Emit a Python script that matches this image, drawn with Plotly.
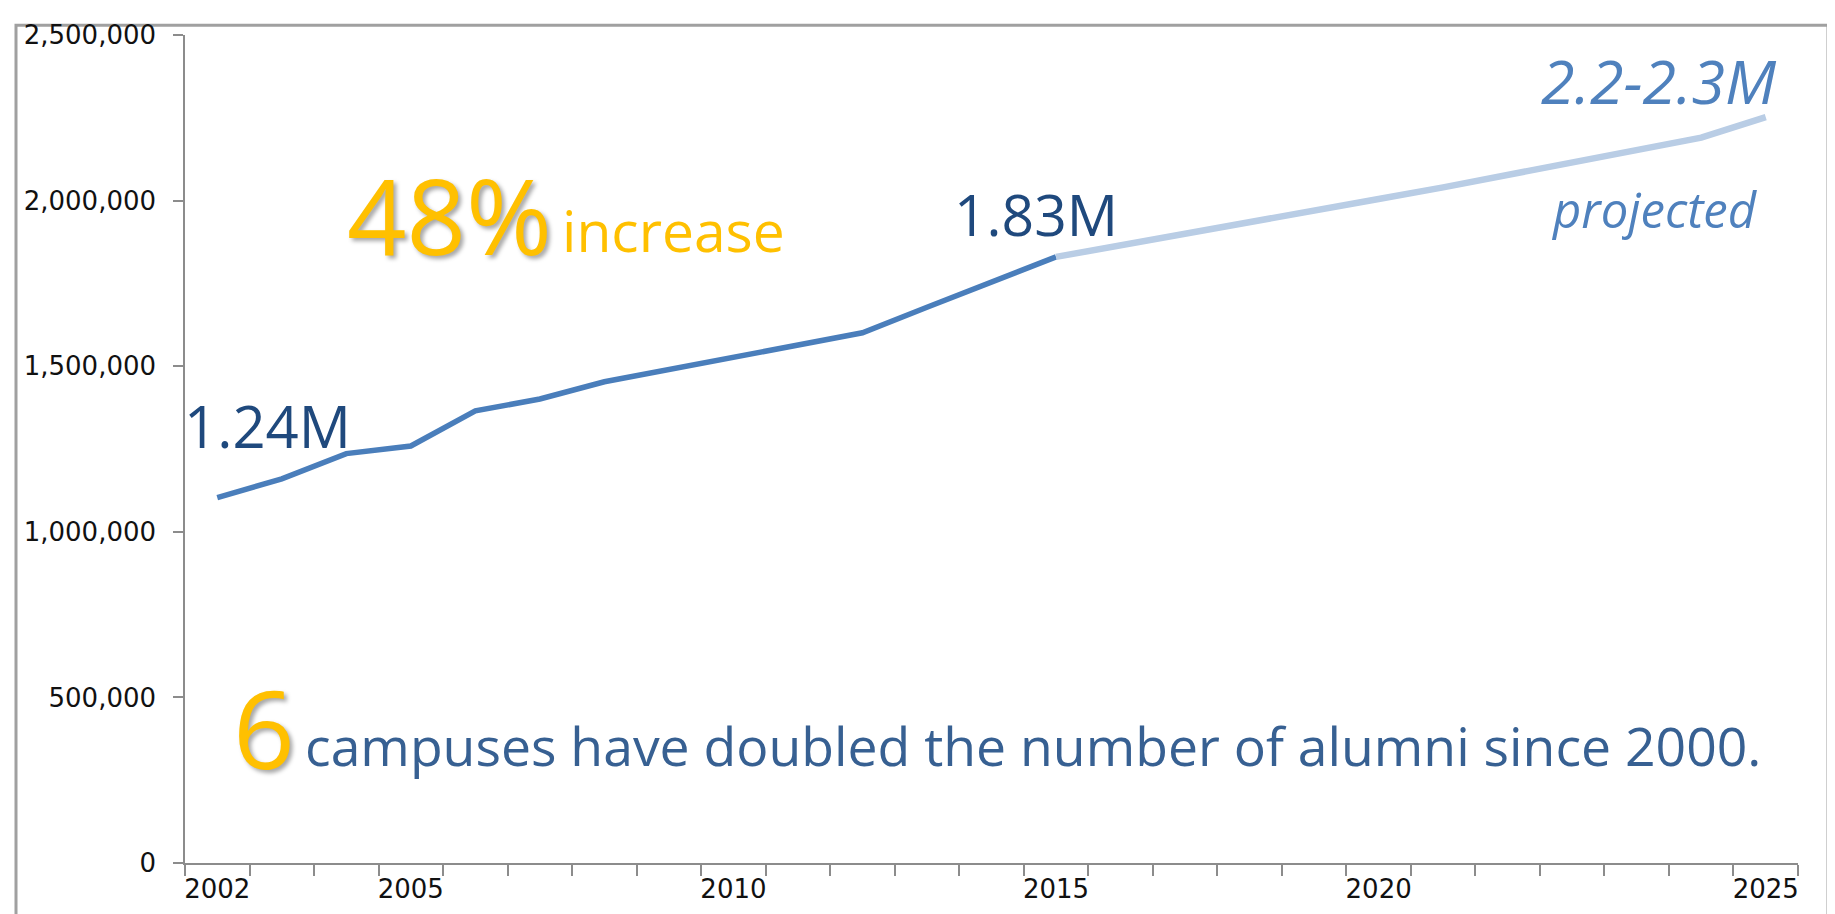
import plotly.graph_objects as go

# ---- data ----
positions = list(range(25))  # category slots on the x axis
tick_positions = [0, 3, 8, 13, 18, 24]
tick_labels = ["2002", "2005", "2010", "2015", "2020", "2025"]
actual_alumni = [1103000, 1160000, 1236000, 1259000, 1365000, 1401000, 1453000,
                 1490000, 1525000, 1562000, 1601000, 1678000, 1755000, 1830000]
projected_alumni = [1830000, 1866000, 1900000, 1935000, 1970000, 2005000,
                    2040000, 2077000, 2115000, 2153000, 2190000, 2252000]
y_ticks = [0, 500000, 1000000, 1500000, 2000000, 2500000]

W, H = 1835, 914
L, R, T, B = 177, 45, 16, 59
PW, PH = W - L - R, H - T - B


def px(x):
    return (x - L) / PW


def py(y):
    return (H - B - y) / PH


fig = go.Figure()
fig.add_trace(go.Scatter(
    x=positions[:len(actual_alumni)], y=actual_alumni, mode="lines",
    line=dict(color="#4A7EBB", width=5.5), hoverinfo="skip", showlegend=False))
start = len(actual_alumni) - 1
fig.add_trace(go.Scatter(
    x=positions[start:start + len(projected_alumni)], y=projected_alumni, mode="lines",
    line=dict(color="#B9CDE5", width=6.5), hoverinfo="skip", showlegend=False))

axis_col = "#8C8C8C"
tick_font = dict(family="DejaVu Sans, Verdana, sans-serif", size=26, color="#111111")

fig.update_layout(
    width=W, height=H,
    margin=dict(l=L, r=R, t=T, b=B),
    paper_bgcolor="white", plot_bgcolor="white",
    xaxis=dict(
        range=[-0.5, 24.5], showgrid=False, zeroline=False,
        showline=True, linecolor=axis_col, linewidth=1.5,
        tickmode="array", tickvals=tick_positions, ticktext=tick_labels,
        ticks="", tickfont=tick_font, ticklabelstandoff=2, ticklabeloverflow="allow",
        minor=dict(tickmode="array", tickvals=[p - 0.5 for p in positions] + [positions[-1] + 0.5],
                   ticks="outside", ticklen=11, tickcolor=axis_col, tickwidth=1.5, showgrid=False),
        fixedrange=True,
    ),
    yaxis=dict(
        range=[0, 2500000], showgrid=False, zeroline=False,
        showline=True, linecolor=axis_col, linewidth=1.5,
        tickmode="array", tickvals=y_ticks, tickformat=",",
        ticks="outside", ticklen=10, tickcolor=axis_col, tickwidth=1.5,
        tickfont=tick_font, ticklabelstandoff=12, ticklabeloverflow="allow", fixedrange=True,
    ),
)

# outer frame
fig.add_shape(type="rect", xref="paper", yref="paper",
              x0=px(8), x1=px(1820), y0=py(930), y1=py(6),
              line=dict(color="#A0A0A0", width=3), fillcolor="rgba(0,0,0,0)", layer="below")

OS = "Open Sans, sans-serif"
shadow = "3px 3px 4px rgba(0,0,0,0.35)"
notes = [
    dict(text="1.24M", x=175, y=412, xa="left", size=58, color="#1F497D", italic=False, sh=None),
    dict(text="48%", x=338, y=198, xa="left", size=104, color="#FFC000", italic=False, sh=shadow),
    dict(text="increase", x=553, y=214, xa="left", size=57, color="#FFC000", italic=False, sh=None),
    dict(text="1.83M", x=945, y=197, xa="left", size=57, color="#1F497D", italic=False, sh=None),
    dict(text="2.2-2.3M", x=1770, y=62, xa="right", size=61, color="#4F81BD", italic=True, sh=None),
    dict(text="projected", x=1751, y=192, xa="right", size=49, color="#4F81BD", italic=True, sh=None),
    dict(text="6", x=224, y=718, xa="left", size=108, color="#FFC000", italic=False, sh=shadow),
    dict(text="campuses have doubled the number of alumni since 2000.", x=296, y=736, xa="left",
         size=53.5, color="#376092", italic=False, sh=None),
]
for n in notes:
    f = dict(family=OS, size=n["size"], color=n["color"],
             style="italic" if n["italic"] else "normal")
    if n["sh"]:
        f["shadow"] = n["sh"]
    fig.add_annotation(text=n["text"], xref="paper", yref="paper", x=px(n["x"]), y=py(n["y"]),
                       xanchor=n["xa"], yanchor="middle", showarrow=False, font=f, borderpad=0)

fig.write_html("out.html", config={"displayModeBar": False})
